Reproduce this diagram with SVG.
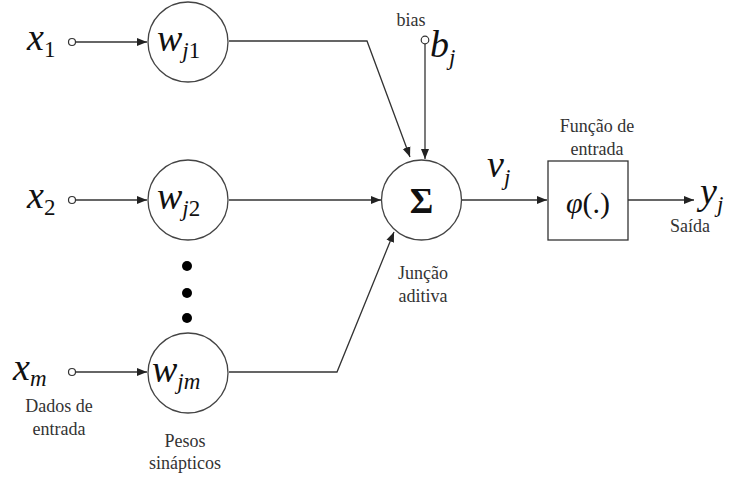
<svg xmlns="http://www.w3.org/2000/svg" width="732" height="478" viewBox="0 0 732 478">
<defs>
<marker id="arr" viewBox="0 0 10 10" refX="10" refY="5" markerWidth="10" markerHeight="10" markerUnits="userSpaceOnUse" orient="auto">
<path d="M0,1 L10,5 L0,9 z" fill="#222"/>
</marker>
<style>
.node{fill:#fff;stroke:#444;stroke-width:1.3}
.pt{fill:#fff;stroke:#333;stroke-width:1.2}
.ln{fill:none;stroke:#333;stroke-width:1.3}
.math{font-style:italic;fill:#111}
.lbl{font-size:18px;fill:#333;text-anchor:middle}
</style>
</defs>
<rect width="732" height="478" fill="#fff"/>
<g id="connectors">
<line class="ln" x1="75.5" y1="42" x2="147" y2="42" marker-end="url(#arr)"/>
<line class="ln" x1="75.5" y1="200" x2="147" y2="200" marker-end="url(#arr)"/>
<line class="ln" x1="75.5" y1="372" x2="147" y2="372" marker-end="url(#arr)"/>
<polyline class="ln" points="229,41 367,41 410,157" marker-end="url(#arr)"/>
<line class="ln" x1="229" y1="200" x2="381" y2="200" marker-end="url(#arr)"/>
<polyline class="ln" points="229,372 337,372 394,232" marker-end="url(#arr)"/>
<line class="ln" x1="425" y1="44" x2="425" y2="159" marker-end="url(#arr)"/>
<line class="ln" x1="462" y1="200" x2="547" y2="200" marker-end="url(#arr)"/>
<line class="ln" x1="628" y1="200" x2="694" y2="200" marker-end="url(#arr)"/>
</g>
<g font-family="Liberation Serif, DejaVu Serif, serif">
<g id="x1">
<text class="math" x="27" y="50" font-size="38">x<tspan font-size="23" font-style="normal" dy="7">1</tspan></text>
<circle class="pt" cx="72" cy="42" r="3.5"/>
</g>
<g id="x2">
<text class="math" x="27" y="208" font-size="38">x<tspan font-size="23" font-style="normal" dy="7">2</tspan></text>
<circle class="pt" cx="72" cy="200" r="3.5"/>
</g>
<g id="xm">
<text class="math" x="13" y="380" font-size="38">x<tspan font-size="23" dy="6">m</tspan></text>
<circle class="pt" cx="72" cy="372" r="3.5"/>
<text class="lbl" x="59" y="412">Dados de</text>
<text class="lbl" x="59" y="435">entrada</text>
</g>
<g id="wj1">
<circle class="node" cx="188" cy="42" r="40"/>
<text class="math" x="157" y="51" font-size="38">w<tspan font-size="23" dy="7">j</tspan><tspan font-size="23" font-style="normal">1</tspan></text>
</g>
<g id="wj2">
<circle class="node" cx="188" cy="200" r="40"/>
<text class="math" x="157" y="209" font-size="38">w<tspan font-size="23" dy="7">j</tspan><tspan font-size="23" font-style="normal">2</tspan></text>
</g>
<g id="dots">
<circle cx="187" cy="266" r="5" fill="#000"/>
<circle cx="187" cy="293" r="5" fill="#000"/>
<circle cx="187" cy="318" r="5" fill="#000"/>
</g>
<g id="wjm">
<circle class="node" cx="188" cy="373" r="40"/>
<text class="math" x="152" y="382" font-size="38">w<tspan font-size="23" dy="7">jm</tspan></text>
<text class="lbl" x="185" y="447">Pesos</text>
<text class="lbl" x="185" y="469">sinápticos</text>
</g>
<g id="bias">
<text class="lbl" x="411" y="26" font-size="14">bias</text>
<circle class="pt" cx="425" cy="40" r="3.8"/>
<text class="math" x="430" y="57" font-size="38">b<tspan font-size="23" dy="8">j</tspan></text>
</g>
<g id="sum">
<circle class="node" cx="421.5" cy="200" r="40"/>
<text x="421.5" y="213" font-weight="bold" font-size="36" text-anchor="middle" fill="#111">Σ</text>
<text class="lbl" x="423" y="279">Junção</text>
<text class="lbl" x="423" y="302">aditiva</text>
</g>
<g id="vj">
<text class="math" x="487" y="177" font-size="38">v<tspan font-size="23" dy="8">j</tspan></text>
</g>
<g id="phi">
<rect x="548" y="161" width="80" height="79" fill="#fff" stroke="#333" stroke-width="1.3"/>
<text class="math" x="588" y="213" font-size="30" text-anchor="middle">φ<tspan font-style="normal">(.)</tspan></text>
<text class="lbl" x="597" y="132">Função de</text>
<text class="lbl" x="597" y="155">entrada</text>
</g>
<g id="yj">
<text class="math" x="700" y="204" font-size="38">y<tspan font-size="23" dy="8">j</tspan></text>
<text class="lbl" x="690" y="232">Saída</text>
</g>
</g>
</svg>
